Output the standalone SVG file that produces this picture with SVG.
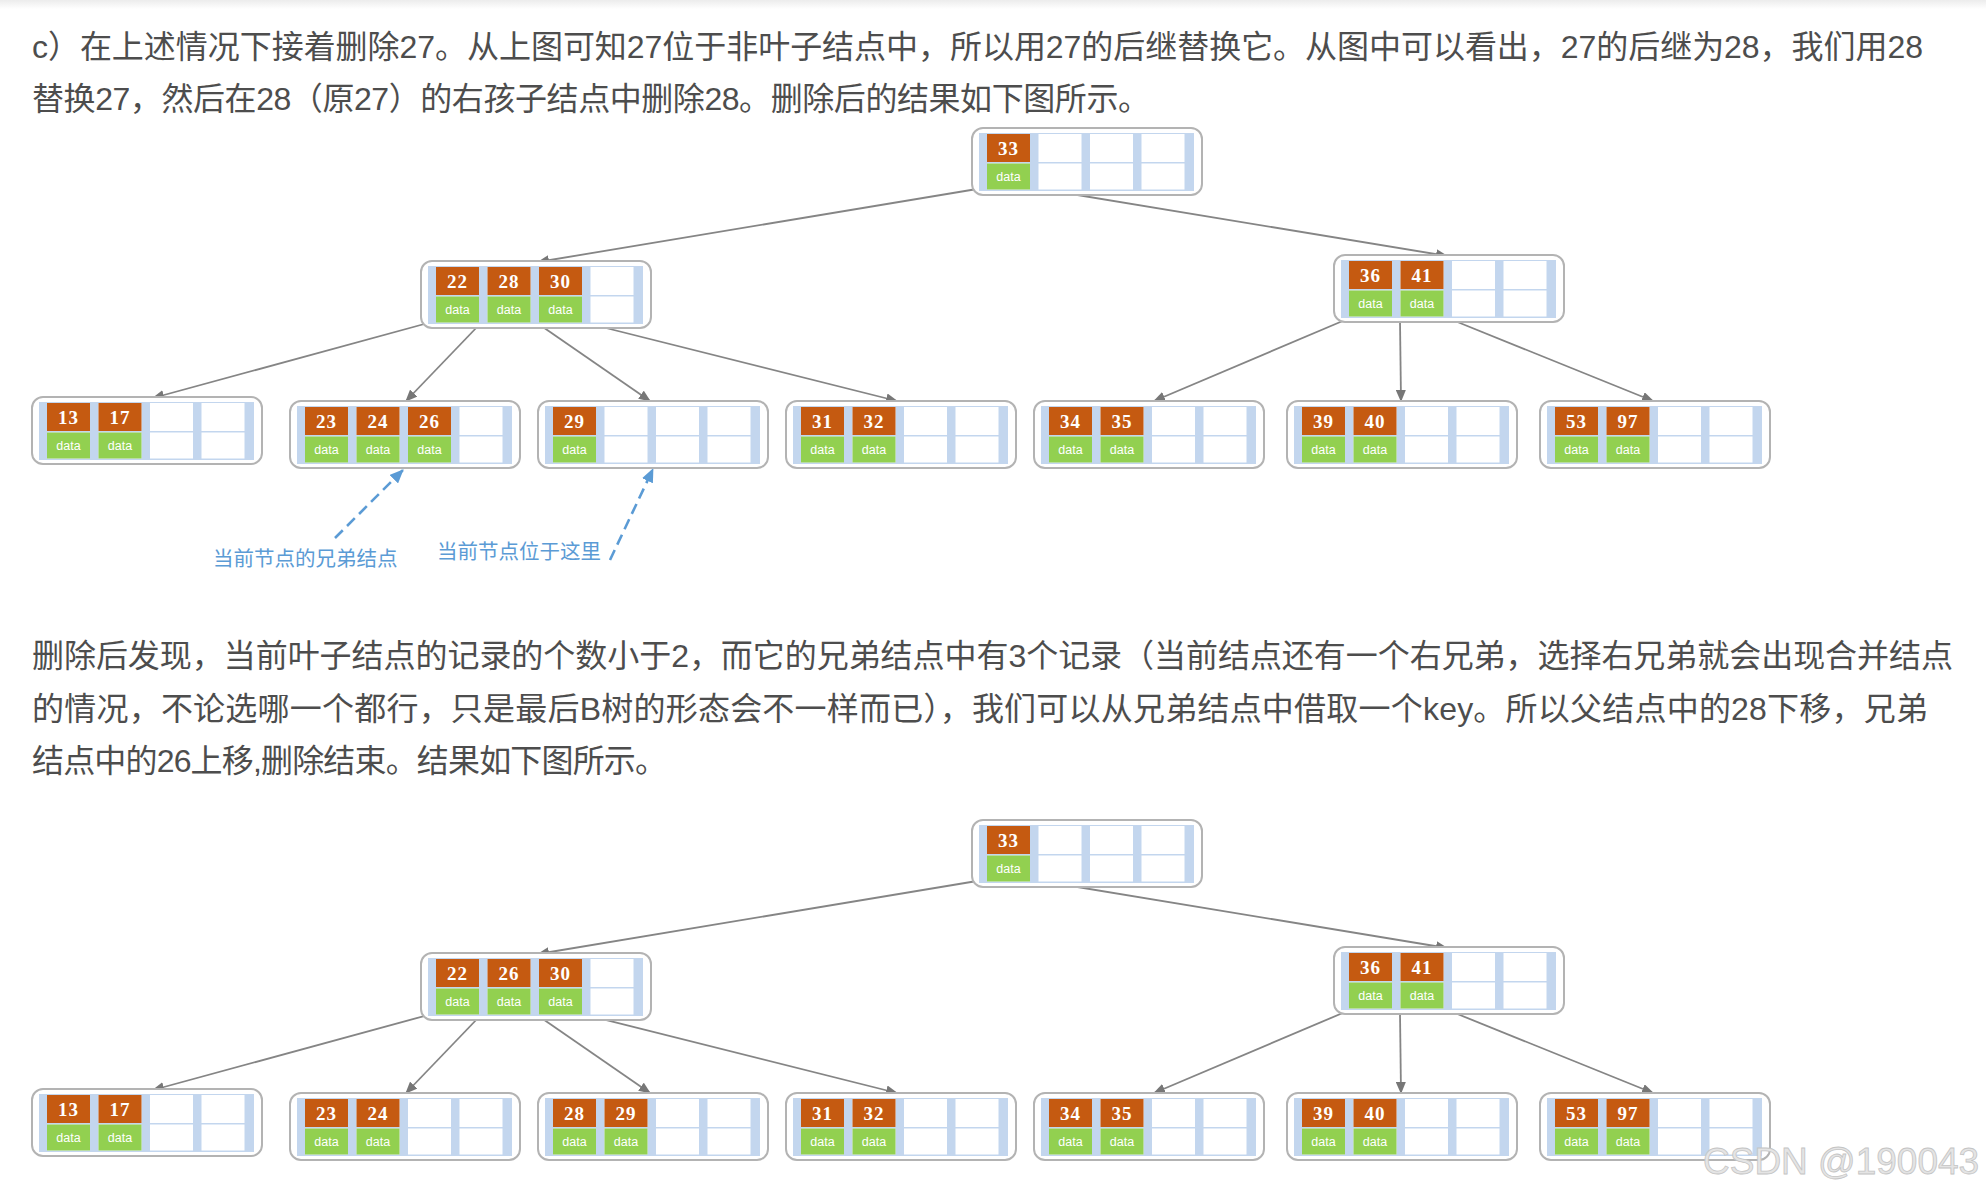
<svg xmlns="http://www.w3.org/2000/svg" xmlns:xlink="http://www.w3.org/1999/xlink" width="1986" height="1195" viewBox="0 0 1986 1195">
<style>
.para{font-family:"Liberation Sans","Noto Sans CJK SC",sans-serif;font-size:32px;fill:#4d4d4d}
.note{font-family:"Noto Sans CJK SC",sans-serif;font-size:20.5px;fill:#5b9bd5}
.k{fill:#c55a11}
.d{fill:#92d050}
.kt{font-family:"Liberation Serif",serif;font-weight:bold;font-size:19px;fill:#fff;text-anchor:middle;letter-spacing:1px}
.dt{font-family:"Liberation Sans",sans-serif;font-size:12.5px;fill:#fff;text-anchor:middle}
.con{stroke:#858585;stroke-width:1.8;fill:none;marker-end:url(#arr)}
.dash{stroke:#5b9bd5;stroke-width:2.6;fill:none;stroke-dasharray:11 6;marker-end:url(#barr)}
.wm{font-family:"Liberation Sans",sans-serif;font-size:37px;fill:#e4e4e4;stroke:#c4c4c4;stroke-width:0.8}
</style>
<defs>
<marker id="arr" markerUnits="userSpaceOnUse" markerWidth="12" markerHeight="10" refX="11" refY="5" orient="auto">
<path d="M0,0 L12,5 L0,10 z" fill="#777"/>
</marker>
<marker id="barr" markerUnits="userSpaceOnUse" markerWidth="14" markerHeight="12" refX="13" refY="6" orient="auto">
<path d="M0,0 L14,6 L0,12 z" fill="#5b9bd5"/>
</marker>
<linearGradient id="topband" x1="0" y1="0" x2="0" y2="1">
<stop offset="0" stop-color="#ececec"/>
<stop offset="1" stop-color="#ffffff"/>
</linearGradient>
<g id="frame">
<rect x="0" y="0" width="230" height="67" rx="11" fill="#fff" stroke="#b3b3b3" stroke-width="2"/>
<rect x="7" y="5" width="215" height="58" fill="#c3d6ee"/>
<rect x="15" y="6" width="43" height="28" fill="#fff"/>
<rect x="15" y="35.5" width="43" height="26" fill="#fff"/>
<rect x="66.5" y="6" width="43" height="28" fill="#fff"/>
<rect x="66.5" y="35.5" width="43" height="26" fill="#fff"/>
<rect x="118" y="6" width="43" height="28" fill="#fff"/>
<rect x="118" y="35.5" width="43" height="26" fill="#fff"/>
<rect x="169.5" y="6" width="43" height="28" fill="#fff"/>
<rect x="169.5" y="35.5" width="43" height="26" fill="#fff"/>
</g>
<g id="c0"><rect class="k" x="15" y="6" width="43" height="28"/><rect class="d" x="15" y="35.5" width="43" height="26"/><text class="dt" x="36.5" y="53">data</text></g>
<g id="c1"><rect class="k" x="66.5" y="6" width="43" height="28"/><rect class="d" x="66.5" y="35.5" width="43" height="26"/><text class="dt" x="88" y="53">data</text></g>
<g id="c2"><rect class="k" x="118" y="6" width="43" height="28"/><rect class="d" x="118" y="35.5" width="43" height="26"/><text class="dt" x="139.5" y="53">data</text></g>
</defs>

<rect x="0" y="0" width="1986" height="1195" fill="#fff"/>
<rect x="0" y="0" width="1986" height="9" fill="url(#topband)"/>

<g id="text">
<text class="para" x="32" y="58" textLength="1891" lengthAdjust="spacing">c）在上述情况下接着删除27。从上图可知27位于非叶子结点中，所以用27的后继替换它。从图中可以看出，27的后继为28，我们用28</text>
<text class="para" x="32" y="110" textLength="1118" lengthAdjust="spacing">替换27，然后在28（原27）的右孩子结点中删除28。删除后的结果如下图所示。</text>
<text class="para" x="32" y="667" textLength="1921" lengthAdjust="spacing">删除后发现，当前叶子结点的记录的个数小于2，而它的兄弟结点中有3个记录（当前结点还有一个右兄弟，选择右兄弟就会出现合并结点</text>
<text class="para" x="32" y="720" textLength="1896" lengthAdjust="spacing">的情况，不论选哪一个都行，只是最后B树的形态会不一样而已），我们可以从兄弟结点中借取一个key。所以父结点中的28下移，兄弟</text>
<text class="para" x="32" y="772" textLength="635" lengthAdjust="spacing">结点中的26上移,删除结束。结果如下图所示。</text>
</g>

<g id="connectors">
<line class="con" x1="983" y1="188" x2="538" y2="262"/>
<line class="con" x1="1035" y1="188" x2="1447" y2="256"/>
<line class="con" x1="428" y1="323" x2="153" y2="398"/>
<line class="con" x1="479" y1="325" x2="406" y2="401"/>
<line class="con" x1="540" y1="325" x2="650" y2="401"/>
<line class="con" x1="586" y1="323" x2="897" y2="401"/>
<line class="con" x1="1345" y1="320" x2="1154" y2="401"/>
<line class="con" x1="1400" y1="321" x2="1401" y2="401"/>
<line class="con" x1="1455" y1="321" x2="1653" y2="401"/>
<line class="dash" x1="335" y1="538" x2="403" y2="470"/>
<line class="dash" x1="610" y1="560" x2="653" y2="469"/>

<line class="con" x1="983" y1="880" x2="538" y2="954"/>
<line class="con" x1="1035" y1="880" x2="1447" y2="948"/>
<line class="con" x1="428" y1="1015" x2="153" y2="1090"/>
<line class="con" x1="479" y1="1017" x2="406" y2="1093"/>
<line class="con" x1="540" y1="1017" x2="650" y2="1093"/>
<line class="con" x1="586" y1="1015" x2="897" y2="1093"/>
<line class="con" x1="1345" y1="1012" x2="1154" y2="1093"/>
<line class="con" x1="1400" y1="1013" x2="1401" y2="1093"/>
<line class="con" x1="1455" y1="1013" x2="1653" y2="1093"/>
</g>

<g id="notes">
<text class="note" x="213" y="566">当前节点的兄弟结点</text>
<text class="note" x="437" y="559">当前节点位于这里</text>
</g>

<!-- Diagram 1 -->
<g id="t1-root" transform="translate(972,128)"><use href="#frame"/><use href="#c0"/><text class="kt" x="36.5" y="27">33</text></g>
<g id="t1-n22" transform="translate(421,261)"><use href="#frame"/><use href="#c0"/><use href="#c1"/><use href="#c2"/><text class="kt" x="36.5" y="27">22</text><text class="kt" x="88" y="27">28</text><text class="kt" x="139.5" y="27">30</text></g>
<g id="t1-n36" transform="translate(1334,255)"><use href="#frame"/><use href="#c0"/><use href="#c1"/><text class="kt" x="36.5" y="27">36</text><text class="kt" x="88" y="27">41</text></g>
<g id="t1-l13" transform="translate(32,397)"><use href="#frame"/><use href="#c0"/><use href="#c1"/><text class="kt" x="36.5" y="27">13</text><text class="kt" x="88" y="27">17</text></g>
<g id="t1-l23" transform="translate(290,401)"><use href="#frame"/><use href="#c0"/><use href="#c1"/><use href="#c2"/><text class="kt" x="36.5" y="27">23</text><text class="kt" x="88" y="27">24</text><text class="kt" x="139.5" y="27">26</text></g>
<g id="t1-l29" transform="translate(538,401)"><use href="#frame"/><use href="#c0"/><text class="kt" x="36.5" y="27">29</text></g>
<g id="t1-l31" transform="translate(786,401)"><use href="#frame"/><use href="#c0"/><use href="#c1"/><text class="kt" x="36.5" y="27">31</text><text class="kt" x="88" y="27">32</text></g>
<g id="t1-l34" transform="translate(1034,401)"><use href="#frame"/><use href="#c0"/><use href="#c1"/><text class="kt" x="36.5" y="27">34</text><text class="kt" x="88" y="27">35</text></g>
<g id="t1-l39" transform="translate(1287,401)"><use href="#frame"/><use href="#c0"/><use href="#c1"/><text class="kt" x="36.5" y="27">39</text><text class="kt" x="88" y="27">40</text></g>
<g id="t1-l53" transform="translate(1540,401)"><use href="#frame"/><use href="#c0"/><use href="#c1"/><text class="kt" x="36.5" y="27">53</text><text class="kt" x="88" y="27">97</text></g>

<!-- Diagram 2 -->
<g id="t2-root" transform="translate(972,820)"><use href="#frame"/><use href="#c0"/><text class="kt" x="36.5" y="27">33</text></g>
<g id="t2-n22" transform="translate(421,953)"><use href="#frame"/><use href="#c0"/><use href="#c1"/><use href="#c2"/><text class="kt" x="36.5" y="27">22</text><text class="kt" x="88" y="27">26</text><text class="kt" x="139.5" y="27">30</text></g>
<g id="t2-n36" transform="translate(1334,947)"><use href="#frame"/><use href="#c0"/><use href="#c1"/><text class="kt" x="36.5" y="27">36</text><text class="kt" x="88" y="27">41</text></g>
<g id="t2-l13" transform="translate(32,1089)"><use href="#frame"/><use href="#c0"/><use href="#c1"/><text class="kt" x="36.5" y="27">13</text><text class="kt" x="88" y="27">17</text></g>
<g id="t2-l23" transform="translate(290,1093)"><use href="#frame"/><use href="#c0"/><use href="#c1"/><text class="kt" x="36.5" y="27">23</text><text class="kt" x="88" y="27">24</text></g>
<g id="t2-l28" transform="translate(538,1093)"><use href="#frame"/><use href="#c0"/><use href="#c1"/><text class="kt" x="36.5" y="27">28</text><text class="kt" x="88" y="27">29</text></g>
<g id="t2-l31" transform="translate(786,1093)"><use href="#frame"/><use href="#c0"/><use href="#c1"/><text class="kt" x="36.5" y="27">31</text><text class="kt" x="88" y="27">32</text></g>
<g id="t2-l34" transform="translate(1034,1093)"><use href="#frame"/><use href="#c0"/><use href="#c1"/><text class="kt" x="36.5" y="27">34</text><text class="kt" x="88" y="27">35</text></g>
<g id="t2-l39" transform="translate(1287,1093)"><use href="#frame"/><use href="#c0"/><use href="#c1"/><text class="kt" x="36.5" y="27">39</text><text class="kt" x="88" y="27">40</text></g>
<g id="t2-l53" transform="translate(1540,1093)"><use href="#frame"/><use href="#c0"/><use href="#c1"/><text class="kt" x="36.5" y="27">53</text><text class="kt" x="88" y="27">97</text></g>

<text class="wm" x="1703" y="1174">CSDN @190043</text>
</svg>
